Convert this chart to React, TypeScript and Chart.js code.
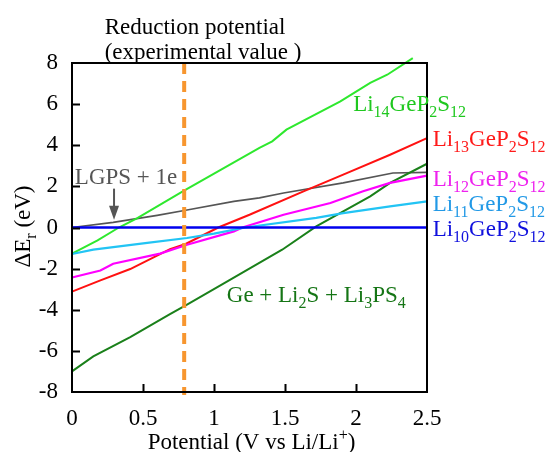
import React, { useEffect, useRef } from "react";
import { Chart, registerables } from "chart.js";
Chart.register(...registerables);

// ---- axes ----
const xMin = 0;
const xMax = 2.5;
const yMin = -8;
const yMax = 8;
const xTickValues = [0.5, 1, 1.5, 2];
const yTickValues = [-6, -4, -2, 0, 2, 4, 6];

// ---- series ----
const li10X = [0, 2.5];
const li10Y = [0, 0];

const li11X = [0, 0.15, 0.53, 0.81, 1.0, 1.22, 1.72, 1.91, 2.24, 2.5];
const li11Y = [-1.29, -1.08, -0.75, -0.51, -0.3, 0, 0.47, 0.7, 1.03, 1.27];

const li12X = [0, 0.2, 0.29, 0.62, 0.81, 1.14, 1.2, 1.49, 1.82, 2.05, 2.24, 2.5];
const li12Y = [-2.43, -2.09, -1.76, -1.27, -0.84, -0.19, 0, 0.62, 1.19, 1.76, 2.17, 2.52];

const li13X = [0, 0.2, 0.41, 0.69, 0.8, 1.03, 1.25, 1.63, 1.91, 2.24, 2.5];
const li13Y = [-3.12, -2.57, -2.02, -1.05, -0.8, 0, 0.62, 1.76, 2.57, 3.54, 4.35];

const li14X = [0, 0.18, 0.33, 0.46, 0.78, 1.05, 1.32, 1.41, 1.51, 1.89, 2.1, 2.22, 2.4];
const li14Y = [-1.27, -0.63, 0, 0.46, 1.76, 2.82, 3.87, 4.19, 4.76, 6.13, 7.03, 7.43, 8.24];

const geX = [0, 0.15, 0.41, 0.69, 0.81, 1.1, 1.48, 1.72, 2.1, 2.24, 2.5];
const geY = [-7.0, -6.27, -5.33, -4.21, -3.75, -2.6, -1.08, 0.05, 1.51, 2.17, 3.1];

const lgpsX = [0, 0.29, 0.6, 0.81, 1.14, 1.32, 1.49, 1.91, 2.26, 2.5];
const lgpsY = [0, 0.25, 0.59, 0.85, 1.27, 1.44, 1.68, 2.17, 2.65, 2.68];

const reductionX = [0.79, 0.79];
const reductionY = [8, -8.15];

// arrow for "LGPS + 1e" (data coords: x, from y, to y)
const arrowX = 0.296;
const arrowFromY = 1.89;
const arrowToY = 0.38;

// ---- labels: segment kind 0 normal, 1 sub, 2 sup ----
type Seg = [string, number];
const labelTexts: Seg[][] = [
  [["Li", 0], ["14", 1], ["GeP", 0], ["2", 1], ["S", 0], ["12", 1]],
  [["Li", 0], ["13", 1], ["GeP", 0], ["2", 1], ["S", 0], ["12", 1]],
  [["Li", 0], ["12", 1], ["GeP", 0], ["2", 1], ["S", 0], ["12", 1]],
  [["Li", 0], ["11", 1], ["GeP", 0], ["2", 1], ["S", 0], ["12", 1]],
  [["Li", 0], ["10", 1], ["GeP", 0], ["2", 1], ["S", 0], ["12", 1]],
  [["Ge + Li", 0], ["2", 1], ["S + Li", 0], ["3", 1], ["PS", 0], ["4", 1]],
  [["LGPS + 1e", 0]],
  [["Reduction potential", 0]],
  [["(experimental value )", 0]],
];
const labelX = [1.98, 2.54, 2.54, 2.54, 2.54, 1.09, 0.02, 0.23, 0.23];
const labelY = [5.94, 4.27, 2.33, 1.11, -0.14, -3.35, 2.42, 9.72, 8.5];
const labelColors = ["#1fc81f", "#ff1a1a", "#ee22ee", "#2299e6", "#1010dd", "#157515", "#555555", "#000000", "#000000"];

const xTitle: Seg[] = [["Potential (V vs Li/Li", 0], ["+", 2], [")", 0]];
const yTitle: Seg[] = [["ΔE", 0], ["r", 1], [" (eV)", 0]];

const FONT = '"Liberation Serif", "Times New Roman", serif';
const FS = 23;

function pts(xs: number[], ys: number[]) {
  return xs.map((x, i) => ({ x, y: ys[i] }));
}

function richWidth(ctx: CanvasRenderingContext2D, segs: Seg[], size: number) {
  let w = 0;
  for (const [t, k] of segs) {
    ctx.font = `${k === 0 ? size : Math.round(size * 0.7)}px ${FONT}`;
    w += ctx.measureText(t).width;
  }
  return w;
}

function drawRich(ctx: CanvasRenderingContext2D, segs: Seg[], x: number, y: number, size: number, color: string, align: "left" | "center") {
  const w = richWidth(ctx, segs, size);
  let cx = align === "center" ? x - w / 2 : x;
  ctx.fillStyle = color;
  ctx.textAlign = "left";
  ctx.textBaseline = "middle";
  for (const [t, k] of segs) {
    const s = k === 0 ? size : Math.round(size * 0.7);
    ctx.font = `${s}px ${FONT}`;
    const dy = k === 1 ? size * 0.34 : k === 2 ? -size * 0.3 : 0;
    ctx.fillText(t, cx, y + dy);
    cx += ctx.measureText(t).width;
  }
}

const overlay = {
  id: "overlay",
  afterDraw(chart: any) {
    const { ctx, chartArea: a, scales } = chart;
    const xs = scales.x;
    const ys = scales.y;
    ctx.save();
    // frame
    ctx.strokeStyle = "#000";
    ctx.lineWidth = 2;
    ctx.strokeRect(a.left, a.top, a.right - a.left, a.bottom - a.top);
    // inward ticks
    ctx.beginPath();
    for (const v of yTickValues) {
      const py = Math.round(ys.getPixelForValue(v)) + 0.5;
      ctx.moveTo(a.left, py);
      ctx.lineTo(a.left + 8, py);
    }
    for (const v of xTickValues) {
      const px = Math.round(xs.getPixelForValue(v)) + 0.5;
      ctx.moveTo(px, a.bottom);
      ctx.lineTo(px, a.bottom - 8);
    }
    ctx.stroke();

    // arrow
    const ax = xs.getPixelForValue(arrowX);
    const ay1 = ys.getPixelForValue(arrowFromY);
    const ay2 = ys.getPixelForValue(arrowToY);
    ctx.strokeStyle = "#555555";
    ctx.fillStyle = "#555555";
    ctx.lineWidth = 2;
    ctx.beginPath();
    ctx.moveTo(ax, ay1);
    ctx.lineTo(ax, ay2 - 12);
    ctx.stroke();
    ctx.beginPath();
    ctx.moveTo(ax - 5, ay2 - 14);
    ctx.lineTo(ax + 5, ay2 - 14);
    ctx.lineTo(ax, ay2);
    ctx.closePath();
    ctx.fill();

    // labels
    labelTexts.forEach((segs, i) => {
      drawRich(ctx, segs, xs.getPixelForValue(labelX[i]), ys.getPixelForValue(labelY[i]), FS, labelColors[i], "left");
    });

    // axis titles
    drawRich(ctx, xTitle, (a.left + a.right) / 2 + 2, 443, FS, "#000", "center");
    ctx.save();
    ctx.translate(24, (a.top + a.bottom) / 2 - 1);
    ctx.rotate(-Math.PI / 2);
    drawRich(ctx, yTitle, 0, 0, FS, "#000", "center");
    ctx.restore();

    ctx.restore();
  },
};

function line(data: { x: number; y: number }[], color: string, width: number, extra: any = {}) {
  return {
    data,
    borderColor: color,
    backgroundColor: color,
    borderWidth: width,
    pointRadius: 0,
    fill: false,
    tension: 0,
    clip: false as any,
    ...extra,
  };
}

export default function App() {
  const ref = useRef<HTMLCanvasElement | null>(null);
  useEffect(() => {
    if (!ref.current) return;
    const chart = new Chart(ref.current, {
      type: "line",
      data: {
        datasets: [
          line(pts(reductionX, reductionY), "#f7962f", 4, { borderDash: [11, 7], borderCapStyle: "butt" }),
          line(pts(li10X, li10Y), "#0000ee", 2.5),
          line(pts(li11X, li11Y), "#22c4f4", 2.2),
          line(pts(li12X, li12Y), "#ff00ff", 2.2),
          line(pts(geX, geY), "#1a801a", 2),
          line(pts(li13X, li13Y), "#ff1111", 2),
          line(pts(li14X, li14Y), "#2ee82e", 2),
          line(pts(lgpsX, lgpsY), "#555555", 1.6),
        ] as any,
      },
      options: {
        animation: false,
        responsive: false,
        events: [],
        layout: { padding: { left: 0, top: 63, right: 121, bottom: 0 } },
        plugins: { legend: { display: false }, tooltip: { enabled: false }, title: { display: false } },
        scales: {
          x: {
            type: "linear",
            min: xMin,
            max: xMax,
            afterFit: (s: any) => {
              s.height = 60;
            },
            grid: { display: false, drawTicks: false },
            border: { display: false },
            ticks: {
              stepSize: 0.5,
              padding: 13,
              color: "#000",
              font: { family: FONT, size: FS },
              maxRotation: 0,
              autoSkip: false,
              callback: (v: any) => String(v),
            },
          },
          y: {
            type: "linear",
            min: yMin,
            max: yMax,
            afterFit: (s: any) => {
              s.width = 72;
            },
            grid: { display: false, drawTicks: false },
            border: { display: false },
            ticks: {
              stepSize: 2,
              padding: 14,
              color: "#000",
              font: { family: FONT, size: FS },
              autoSkip: false,
              callback: (v: any) => String(v),
            },
          },
        },
      } as any,
      plugins: [overlay],
    });
    return () => chart.destroy();
  }, []);
  return (
    <div style={{ position: "absolute", left: 0, top: 0, width: 548, height: 452, background: "#fff" }}>
      <canvas ref={ref} width={548} height={452} style={{ display: "block" }} />
    </div>
  );
}
